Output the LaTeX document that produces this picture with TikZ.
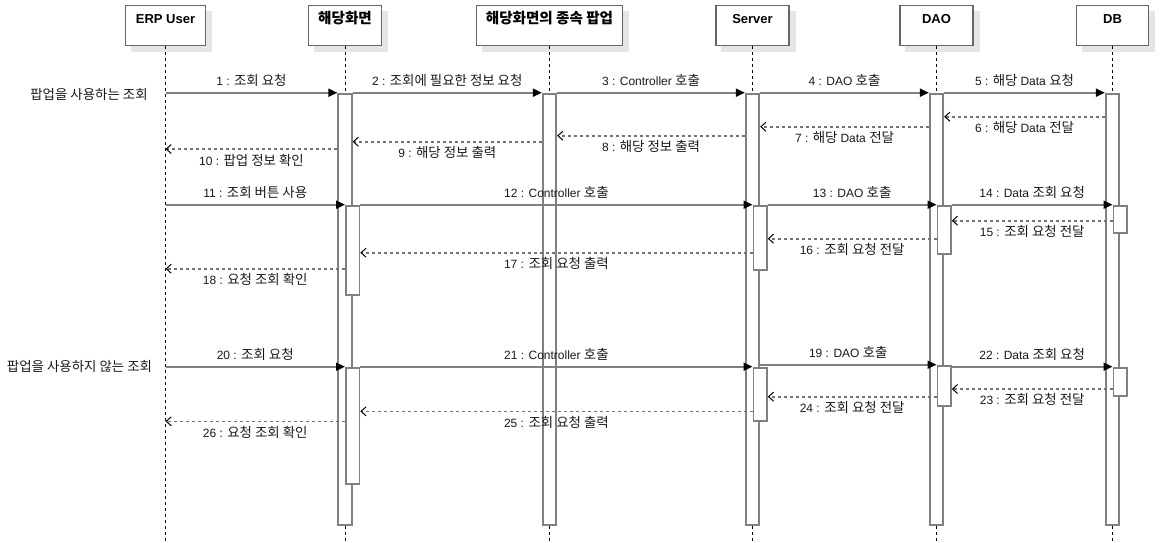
\documentclass[tikz,border=0pt]{standalone}
\usepackage{fontspec}
\setmainfont{Liberation Sans}
\newfontfamily\latfont{Liberation Sans}
\newfontfamily\krfont[Scale=1.12]{Noto Sans CJK KR}
\usetikzlibrary{arrows.meta,backgrounds}

% Hangul syllables are set in Noto Sans CJK KR
\XeTeXinterchartokenstate=1
\newXeTeXintercharclass\hangulclass
\count255="AC00
\loop
  \XeTeXcharclass\count255=\hangulclass
  \advance\count255 by 1
\ifnum\count255<"D7A4 \repeat
\XeTeXinterchartoks 0 \hangulclass = {\krfont}
\XeTeXinterchartoks 4095 \hangulclass = {\krfont}
\XeTeXinterchartoks \hangulclass 0 = {\latfont}
\XeTeXinterchartoks 4095 0 = {\latfont}

\begin{document}
\begin{tikzpicture}[x=1pt, y=-1pt,
    head/.style={draw=black!60, line width=1.8pt, fill=white, anchor=north,
      minimum height=40pt, inner ysep=4pt, text height=14pt, text depth=18pt,
      font=\fontsize{13}{15}\selectfont\bfseries},
    bar/.style={draw=black!50, line width=1.8pt, fill=white, minimum width=13.5pt, inner sep=0pt, anchor=north},
    subbar/.style={bar, anchor=north west},
    life/.style={black, line width=0.9pt, dash pattern=on 3pt off 3pt},
    call/.style={black!50, line width=1.8pt, -{Triangle[length=9pt, width=8pt, color=black]}},
    reply/.style={black!55, line width=1.6pt, dash pattern=on 3pt off 3pt,
      -{Straight Barb[length=5pt, width=9pt, line width=1pt, color=black]}},
    lbl/.style={text=black!90, font=\fontsize{12}{14}\selectfont, inner sep=1pt}]
    \useasboundingbox (0,0) rectangle (1161,542);

    % Lifelines
    \node[head, minimum width=80pt] (user) at (165.5,4.5) {ERP User};
    \node[head, minimum width=73pt] (screen) at (345,4.5) {해당화면};
    \node[head, minimum width=146pt] (popup) at (549.5,4.5) {해당화면의 종속 팝업};
    \node[head, minimum width=73pt] (server) at (752.5,4.5) {Server};
    \node[head, minimum width=73pt] (dao) at (936.5,4.5) {DAO};
    \node[head, minimum width=72pt] (db) at (1112.5,4.5) {DB};
    \begin{scope}[on background layer]
        \foreach \n in {user,screen,popup,server,dao,db}
            \fill[black!10] ([xshift=6pt,yshift=-6pt]\n.north west) rectangle ([xshift=6pt,yshift=-6pt]\n.south east);
    \end{scope}
    \coordinate (bottom) at (0,542);
    \foreach \n in {user,screen,popup,server,dao,db}
        \draw[life] (\n.south) -- (\n.south |- bottom);
    \foreach \n in {screen,popup,server,dao,db}
        \node[bar, minimum height=431.6pt] (b\n) at (\n.south |- 0,92.7) {};

    % Activations
    \node[subbar, minimum height=89.3pt] (bscreen2) at (345,204.7) {};
    \node[subbar, minimum height=64pt] (bserver2) at (752.5,204.7) {};
    \node[subbar, minimum height=48pt] (bdao2) at (936.5,204.7) {};
    \node[subbar, minimum height=27.6pt] (bdb2) at (1112.5,204.7) {};
    \node[subbar, minimum height=116pt] (bscreen3) at (345,366.7) {};
    \node[subbar, minimum height=53.6pt] (bserver3) at (752.5,366.7) {};
    \node[subbar, minimum height=40.3pt] (bdao3) at (936.5,364.7) {};
    \node[subbar, minimum height=28.3pt] (bdb3) at (1112.5,366.7) {};

    % Reply rows
    \coordinate (r6) at (0,116.7);
    \coordinate (r7) at (0,126.7);
    \coordinate (r8) at (0,135.7);
    \coordinate (r9) at (0,141.7);
    \coordinate (r10) at (0,149);
    \coordinate (r15) at (0,220.7);
    \coordinate (r16) at (0,238.7);
    \coordinate (r17) at (0,252.7);
    \coordinate (r18) at (0,268.7);
    \coordinate (r23) at (0,389);
    \coordinate (r24) at (0,396.7);
    \coordinate (r25) at (0,411.3);
    \coordinate (r26) at (0,421.3);

    % With popup
    \node[lbl] (withPopup) at (89,94) {팝업을 사용하는 조회};
    \draw[call] (user.south |- bscreen.north) -- (bscreen.north west) node[lbl, midway, above=4pt] (l1) {1 : 조회 요청};
    \draw[call] (bscreen.north east) -- (bpopup.north west) node[lbl, midway, above=4pt] (l2) {2 : 조회에 필요한 정보 요청};
    \draw[call] (bpopup.north east) -- (bserver.north west) node[lbl, midway, above=4pt] (l3) {3 : Controller 호출};
    \draw[call] (bserver.north east) -- (bdao.north west) node[lbl, midway, above=4pt] (l4) {4 : DAO 호출};
    \draw[call] (bdao.north east) -- (bdb.north west) node[lbl, midway, above=4pt] (l5) {5 : 해당 Data 요청};
    \draw[reply] (bdb.west |- r6) -- (bdao.east |- r6) node[lbl, midway, below=3pt] (l6) {6 : 해당 Data 전달};
    \draw[reply] (bdao.west |- r7) -- (bserver.east |- r7) node[lbl, midway, below=3pt] (l7) {7 : 해당 Data 전달};
    \draw[reply] (bserver.west |- r8) -- (bpopup.east |- r8) node[lbl, midway, below=3pt] (l8) {8 : 해당 정보 출력};
    \draw[reply] (bpopup.west |- r9) -- (bscreen.east |- r9) node[lbl, midway, below=3pt] (l9) {9 : 해당 정보 출력};
    \draw[reply] (bscreen.west |- r10) -- (user.south |- r10) node[lbl, midway, below=3pt] (l10) {10 : 팝업 정보 확인};

    % Search button
    \draw[call] (user.south |- bscreen2.north) -- (bscreen2.north west) node[lbl, midway, above=4pt] (l11) {11 : 조회 버튼 사용};
    \draw[call] (bscreen2.north east) -- (bserver2.north west) node[lbl, midway, above=4pt] (l12) {12 : Controller 호출};
    \draw[call] (bserver2.north east) -- (bdao2.north west) node[lbl, midway, above=4pt] (l13) {13 : DAO 호출};
    \draw[call] (bdao2.north east) -- (bdb2.north west) node[lbl, midway, above=4pt] (l14) {14 : Data 조회 요청};
    \draw[reply] (bdb2.west |- r15) -- (bdao2.east |- r15) node[lbl, midway, below=3pt] (l15) {15 : 조회 요청 전달};
    \draw[reply] (bdao2.west |- r16) -- (bserver2.east |- r16) node[lbl, midway, below=3pt] (l16) {16 : 조회 요청 전달};
    \draw[reply] (bserver2.west |- r17) -- (bscreen2.east |- r17) node[lbl, midway, below=3pt] (l17) {17 : 조회 요청 출력};
    \draw[reply] (bscreen2.west |- r18) -- (user.south |- r18) node[lbl, midway, below=3pt] (l18) {18 : 요청 조회 확인};

    % Without popup
    \node[lbl] (noPopup) at (79.5,366.7) {팝업을 사용하지 않는 조회};
    \draw[call] (user.south |- bscreen3.north) -- (bscreen3.north west) node[lbl, midway, above=4pt] (l20) {20 : 조회 요청};
    \draw[call] (bscreen3.north east) -- (bserver3.north west) node[lbl, midway, above=4pt] (l21) {21 : Controller 호출};
    \draw[call] (bserver.east |- bdao3.north) -- (bdao3.north west) node[lbl, midway, above=4pt] (l19) {19 : DAO 호출};
    \draw[call] (bdao3.east |- bdb3.north) -- (bdb3.north west) node[lbl, midway, above=4pt] (l22) {22 : Data 조회 요청};
    \draw[reply] (bdb3.west |- r23) -- (bdao3.east |- r23) node[lbl, midway, below=3pt] (l23) {23 : 조회 요청 전달};
    \draw[reply] (bdao3.west |- r24) -- (bserver3.east |- r24) node[lbl, midway, below=3pt] (l24) {24 : 조회 요청 전달};
    \draw[reply] (bserver3.west |- r25) -- (bscreen3.east |- r25) node[lbl, midway, below=3pt] (l25) {25 : 조회 요청 출력};
    \draw[reply] (bscreen3.west |- r26) -- (user.south |- r26) node[lbl, midway, below=3pt] (l26) {26 : 요청 조회 확인};

\end{tikzpicture}
\end{document}
